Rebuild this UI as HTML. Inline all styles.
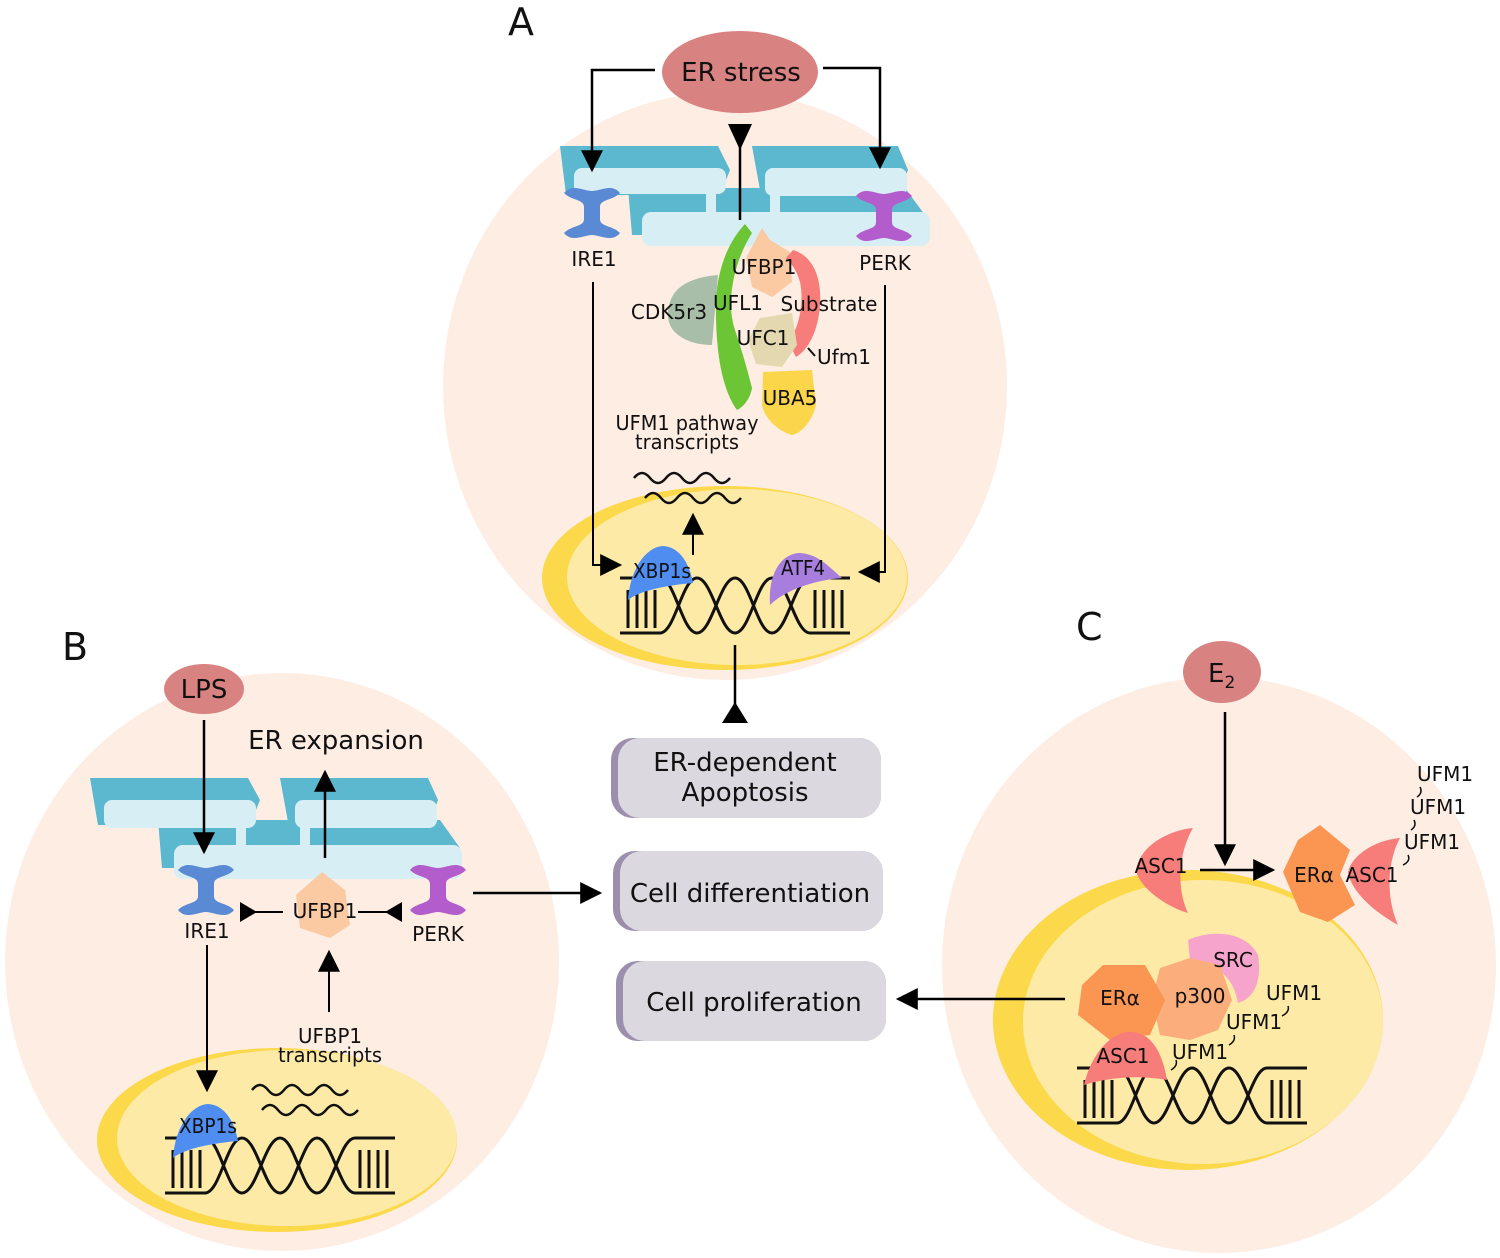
<!DOCTYPE html>
<html><head><meta charset="utf-8"><style>
html,body{margin:0;padding:0;background:#fff}
svg{display:block}
text{font-family:"DejaVu Sans","Liberation Sans",sans-serif;fill:#111}
</style></head><body>
<svg width="1500" height="1258" viewBox="0 0 1500 1258" xmlns="http://www.w3.org/2000/svg">
<defs>
<marker id="ahb" viewBox="0 0 10 10" refX="9" refY="5" markerWidth="24" markerHeight="22" markerUnits="userSpaceOnUse" orient="auto"><path d="M0,0 L10,5 L0,10z" fill="#000"/></marker>
<g id="dna" fill="none" stroke="#111" stroke-width="3">
<path d="M0,0 H40 C55,0 62,55 77,55 S100,0 115,0 S137,55 152,55 S175,0 190,0 H230"/>
<path d="M0,55 H40 C55,55 62,0 77,0 S100,55 115,55 S137,0 152,0 S175,55 190,55 H230"/>
<path d="M8,12 V50 M17,12 V50 M26,12 V50 M35,12 V50 M195,12 V50 M204,12 V50 M213,12 V50 M222,12 V50"/>
</g>
<g id="wave" fill="none" stroke="#111" stroke-width="2.5"><path d="M0,8 q8,-10 16,0 t16,0 t16,0 t16,0 t16,0 t16,0"/></g>
<g id="ibeam"><path d="M-28,-20 C-20,-30 -8,-22 0,-22 C8,-22 20,-30 28,-20 C20,-12 8,-14 8,-6 V6 C8,14 20,12 28,20 C20,30 8,22 0,22 C-8,22 -20,30 -28,20 C-20,12 -8,14 -8,6 V-6 C-8,-14 -20,-12 -28,-20z"/></g>
</defs>
<rect width="1500" height="1258" fill="#fff"/>

<!-- cells -->
<ellipse cx="725" cy="386" rx="282" ry="294" fill="#fdede3"/>
<ellipse cx="282" cy="962" rx="277" ry="289" fill="#fdede3"/>
<ellipse cx="1219" cy="965" rx="277" ry="288" fill="#fdede3"/>
<!-- nuclei -->
<ellipse cx="725" cy="578" rx="183" ry="92" fill="#fcd94a"/>
<ellipse cx="737" cy="577" rx="170" ry="88" fill="#fdeaa6"/>
<ellipse cx="277" cy="1140" rx="180" ry="92" fill="#fcd94a"/>
<ellipse cx="287" cy="1138" rx="170" ry="88" fill="#fdeaa6"/>
<ellipse cx="1188" cy="1020" rx="195" ry="150" fill="#fcd94a"/>
<ellipse cx="1203" cy="1022" rx="180" ry="142" fill="#fdeaa6"/>

<text x="508" y="35" font-size="38">A</text>
<text x="62" y="660" font-size="38">B</text>
<text x="1076" y="640" font-size="38">C</text>

<!-- ===== Panel A ===== -->
<ellipse cx="740" cy="72" rx="78" ry="41" fill="#d98282"/>
<text x="741" y="81" font-size="26" text-anchor="middle">ER stress</text>
<g>
<path d="M560,146 H718 L730,170 L720,195 H566z" fill="#5cb8cf"/>
<path d="M752,146 H898 L908,170 L900,190 H760z" fill="#5cb8cf"/>
<path d="M628,188 H905 L925,215 L918,235 H632z" fill="#5cb8cf"/>
<rect x="574" y="168" width="152" height="26" rx="8" fill="#d7eef4"/>
<rect x="765" y="168" width="142" height="28" rx="8" fill="#d7eef4"/>
<rect x="642" y="212" width="288" height="34" rx="9" fill="#d7eef4"/>
<rect x="706" y="192" width="10" height="22" fill="#d7eef4"/>
<rect x="770" y="192" width="10" height="22" fill="#d7eef4"/>
</g>
<use href="#ibeam" x="592" y="213" fill="#5b8ad4"/>
<use href="#ibeam" x="884" y="216" fill="#b35ccc"/>
<path d="M655,70 H592 V170" fill="none" stroke="#000" stroke-width="2.5" marker-end="url(#ahb)"/>
<path d="M823,68 H880 V167" fill="none" stroke="#000" stroke-width="2.5" marker-end="url(#ahb)"/>
<path d="M728,124 L752,124 L740,150z" fill="#000"/>
<line x1="740" y1="145" x2="740" y2="220" stroke="#000" stroke-width="2.5"/>
<text x="594" y="266" font-size="20" text-anchor="middle">IRE1</text>
<text x="885" y="270" font-size="20" text-anchor="middle">PERK</text>
<path d="M593,282 V565 H620" fill="none" stroke="#000" stroke-width="2" marker-end="url(#ahb)"/>
<path d="M885,285 V572 H860" fill="none" stroke="#000" stroke-width="2" marker-end="url(#ahb)"/>
<path d="M668,315 C668,290 685,278 718,275 L712,345 C690,345 668,335 668,315z" fill="#a9bea8"/>
<path d="M745,224 L752,233 C735,260 725,300 735,330 C745,360 750,380 752,388 C750,400 742,408 737,410 C722,390 715,350 716,300 C718,265 730,240 745,224z" fill="#6cc535"/>
<path d="M762,228 L770,240 L790,252 L792,282 L772,297 L752,287 L746,258z" fill="#fbc9a2"/>
<path d="M793,250 C814,256 822,280 820,305 C818,332 808,350 796,357 L788,342 C800,328 804,300 800,282 C797,270 790,262 786,258z" fill="#f77d7b"/>
<path d="M760,318 L792,313 L797,345 L782,367 L756,364 L748,340z" fill="#e4d8b0"/>
<path d="M763,372 L812,370 L816,405 C812,422 800,434 792,435 C780,432 765,420 762,405z" fill="#fbd54a"/>
<path d="M808,348 L815,356" stroke="#111" stroke-width="2"/>
<text x="764" y="274" font-size="20" text-anchor="middle">UFBP1</text>
<text x="738" y="310" font-size="20" text-anchor="middle">UFL1</text>
<text x="829" y="311" font-size="20" text-anchor="middle">Substrate</text>
<text x="669" y="319" font-size="20" text-anchor="middle">CDK5r3</text>
<text x="763" y="345" font-size="20" text-anchor="middle">UFC1</text>
<text x="844" y="364" font-size="20" text-anchor="middle">Ufm1</text>
<text x="790" y="405" font-size="20" text-anchor="middle">UBA5</text>
<text x="687" y="430" font-size="20" text-anchor="middle" textLength="143" lengthAdjust="spacingAndGlyphs">UFM1 pathway</text>
<text x="687" y="449" font-size="20" text-anchor="middle" textLength="104" lengthAdjust="spacingAndGlyphs">transcripts</text>
<use href="#wave" x="634" y="470"/>
<use href="#wave" x="645" y="490"/>
<line x1="693" y1="555" x2="693" y2="515" stroke="#000" stroke-width="2" marker-end="url(#ahb)"/>
<use href="#dna" x="620" y="578"/>
<path d="M628,600 C630,570 645,548 662,546 C680,546 690,565 693,583 C670,585 640,590 628,600z" fill="#4f8ef0"/>
<text x="662" y="578" font-size="20" text-anchor="middle" textLength="58" lengthAdjust="spacingAndGlyphs">XBP1s</text>
<path d="M770,605 C768,575 780,555 798,553 C818,553 830,568 842,578 C815,580 785,590 770,605z" fill="#a77ede"/>
<text x="803" y="575" font-size="20" text-anchor="middle" textLength="44" lengthAdjust="spacingAndGlyphs">ATF4</text>
<line x1="735" y1="645" x2="735" y2="708" stroke="#000" stroke-width="2.5"/>
<path d="M722,723 L748,723 L735,702z" fill="#000"/>

<!-- boxes -->
<rect x="611" y="738" width="270" height="80" rx="22" fill="#9c8fad"/>
<rect x="618" y="738" width="263" height="80" rx="22" fill="#dcd8df"/>
<text x="745" y="771" font-size="26" text-anchor="middle">ER-dependent</text>
<text x="745" y="801" font-size="26" text-anchor="middle">Apoptosis</text>
<rect x="613" y="851" width="270" height="80" rx="22" fill="#9c8fad"/>
<rect x="620" y="851" width="263" height="80" rx="22" fill="#dcd8df"/>
<text x="750" y="902" font-size="26" text-anchor="middle">Cell differentiation</text>
<rect x="616" y="961" width="270" height="80" rx="22" fill="#9c8fad"/>
<rect x="623" y="961" width="263" height="80" rx="22" fill="#dcd8df"/>
<text x="754" y="1011" font-size="26" text-anchor="middle">Cell proliferation</text>

<!-- ===== Panel B ===== -->
<ellipse cx="204" cy="689" rx="40" ry="25" fill="#d98282"/>
<text x="204" y="698" font-size="26" text-anchor="middle">LPS</text>
<text x="336" y="749" font-size="26" text-anchor="middle">ER expansion</text>
<path d="M90,778 H248 L260,800 L250,825 H98z" fill="#5cb8cf"/>
<path d="M280,778 H428 L438,800 L430,822 H288z" fill="#5cb8cf"/>
<path d="M158,820 H440 L460,848 L455,868 H162z" fill="#5cb8cf"/>
<rect x="104" y="800" width="152" height="28" rx="8" fill="#d7eef4"/>
<rect x="295" y="800" width="142" height="28" rx="8" fill="#d7eef4"/>
<rect x="174" y="845" width="288" height="34" rx="9" fill="#d7eef4"/>
<rect x="236" y="824" width="10" height="24" fill="#d7eef4"/>
<rect x="300" y="824" width="10" height="24" fill="#d7eef4"/>
<use href="#ibeam" x="206" y="890" fill="#5b8ad4"/>
<use href="#ibeam" x="438" y="890" fill="#b35ccc"/>
<line x1="204" y1="720" x2="204" y2="852" stroke="#000" stroke-width="2.5" marker-end="url(#ahb)"/>
<line x1="325" y1="858" x2="325" y2="772" stroke="#000" stroke-width="2.5" marker-end="url(#ahb)"/>
<path d="M322,872 L345,890 L350,925 L330,938 L300,928 L296,895z" fill="#fbc9a2"/>
<text x="325" y="918" font-size="20" text-anchor="middle">UFBP1</text>
<text x="207" y="938" font-size="20" text-anchor="middle">IRE1</text>
<text x="438" y="941" font-size="20" text-anchor="middle">PERK</text>
<line x1="252" y1="912" x2="283" y2="912" stroke="#000" stroke-width="2"/>
<path d="M240,902 L257,912 L240,922z" fill="#000"/>
<line x1="358" y1="912" x2="390" y2="912" stroke="#000" stroke-width="2"/>
<path d="M402,902 L385,912 L402,922z" fill="#000"/>
<use href="#wave" x="252" y="1082"/>
<use href="#wave" x="262" y="1102"/>
<use href="#dna" x="165" y="1138"/>
<path d="M173,1158 C175,1128 190,1106 207,1104 C225,1104 235,1123 238,1141 C215,1143 185,1148 173,1158z" fill="#4f8ef0"/>
<text x="208" y="1133" font-size="20" text-anchor="middle" textLength="58" lengthAdjust="spacingAndGlyphs">XBP1s</text>
<line x1="207" y1="945" x2="207" y2="1090" stroke="#000" stroke-width="2" marker-end="url(#ahb)"/>
<line x1="329" y1="1012" x2="329" y2="952" stroke="#000" stroke-width="2" marker-end="url(#ahb)"/>
<text x="330" y="1043" font-size="20" text-anchor="middle" textLength="64" lengthAdjust="spacingAndGlyphs">UFBP1</text>
<text x="330" y="1062" font-size="20" text-anchor="middle" textLength="104" lengthAdjust="spacingAndGlyphs">transcripts</text>
<line x1="473" y1="893" x2="600" y2="893" stroke="#000" stroke-width="2.5" marker-end="url(#ahb)"/>

<!-- ===== Panel C ===== -->
<ellipse cx="1222" cy="672" rx="39" ry="31" fill="#d98282"/>
<text x="1208" y="682" font-size="26">E<tspan font-size="17" dy="6">2</tspan></text>
<path d="M1193,828 C1170,830 1140,845 1136,870 C1140,890 1170,908 1188,913 C1175,885 1180,850 1193,828z" fill="#f77d7b"/>
<text x="1161" y="873" font-size="20" text-anchor="middle">ASC1</text>
<line x1="1225" y1="712" x2="1225" y2="864" stroke="#000" stroke-width="2.5" marker-end="url(#ahb)"/>
<line x1="1200" y1="870" x2="1273" y2="870" stroke="#000" stroke-width="2.5" marker-end="url(#ahb)"/>
<path d="M1320,825 L1350,850 L1340,875 L1355,905 L1328,922 L1300,912 L1283,872 L1298,840z" fill="#fb9552"/>
<path d="M1400,838 C1375,840 1352,855 1348,872 C1352,895 1380,915 1398,925 C1385,895 1388,860 1400,838z" fill="#f77d7b"/>
<text x="1314" y="882" font-size="20" text-anchor="middle">ERα</text>
<text x="1372" y="882" font-size="20" text-anchor="middle">ASC1</text>
<text x="1445" y="781" font-size="20" text-anchor="middle">UFM1</text>
<text x="1438" y="814" font-size="20" text-anchor="middle">UFM1</text>
<text x="1432" y="849" font-size="20" text-anchor="middle">UFM1</text>
<path d="M1420,787 q3,6 -3,10 M1414,820 q3,6 -3,10 M1408,855 q3,6 -5,10" fill="none" stroke="#111" stroke-width="1.5"/>
<use href="#dna" x="1077" y="1068"/>
<path d="M1188,940 C1210,930 1245,930 1258,955 C1262,980 1255,998 1238,1003 C1235,985 1225,965 1190,960z" fill="#f7a4cc"/>
<path d="M1160,968 L1190,958 L1220,965 L1232,1000 L1218,1030 L1190,1040 L1160,1035 L1152,1000z" fill="#fbad7b"/>
<path d="M1103,965 L1145,965 L1165,1000 L1150,1035 L1110,1040 L1078,1015 L1082,985z" fill="#fb9552"/>
<path d="M1084,1085 C1092,1052 1112,1032 1130,1032 C1150,1032 1162,1050 1167,1080 C1140,1075 1110,1077 1084,1085z" fill="#f77d7b"/>
<text x="1233" y="967" font-size="20" text-anchor="middle">SRC</text>
<text x="1200" y="1003" font-size="20" text-anchor="middle">p300</text>
<text x="1120" y="1005" font-size="20" text-anchor="middle">ERα</text>
<text x="1123" y="1063" font-size="20" text-anchor="middle">ASC1</text>
<text x="1294" y="1000" font-size="20" text-anchor="middle">UFM1</text>
<text x="1254" y="1029" font-size="20" text-anchor="middle">UFM1</text>
<text x="1200" y="1059" font-size="20" text-anchor="middle">UFM1</text>
<path d="M1288,1006 q2,6 -6,10 M1234,1035 q2,6 -5,10 M1176,1060 q2,6 -5,10" fill="none" stroke="#111" stroke-width="1.5"/>
<line x1="1065" y1="999" x2="898" y2="999" stroke="#000" stroke-width="2.5" marker-end="url(#ahb)"/>
</svg>
</body></html>
